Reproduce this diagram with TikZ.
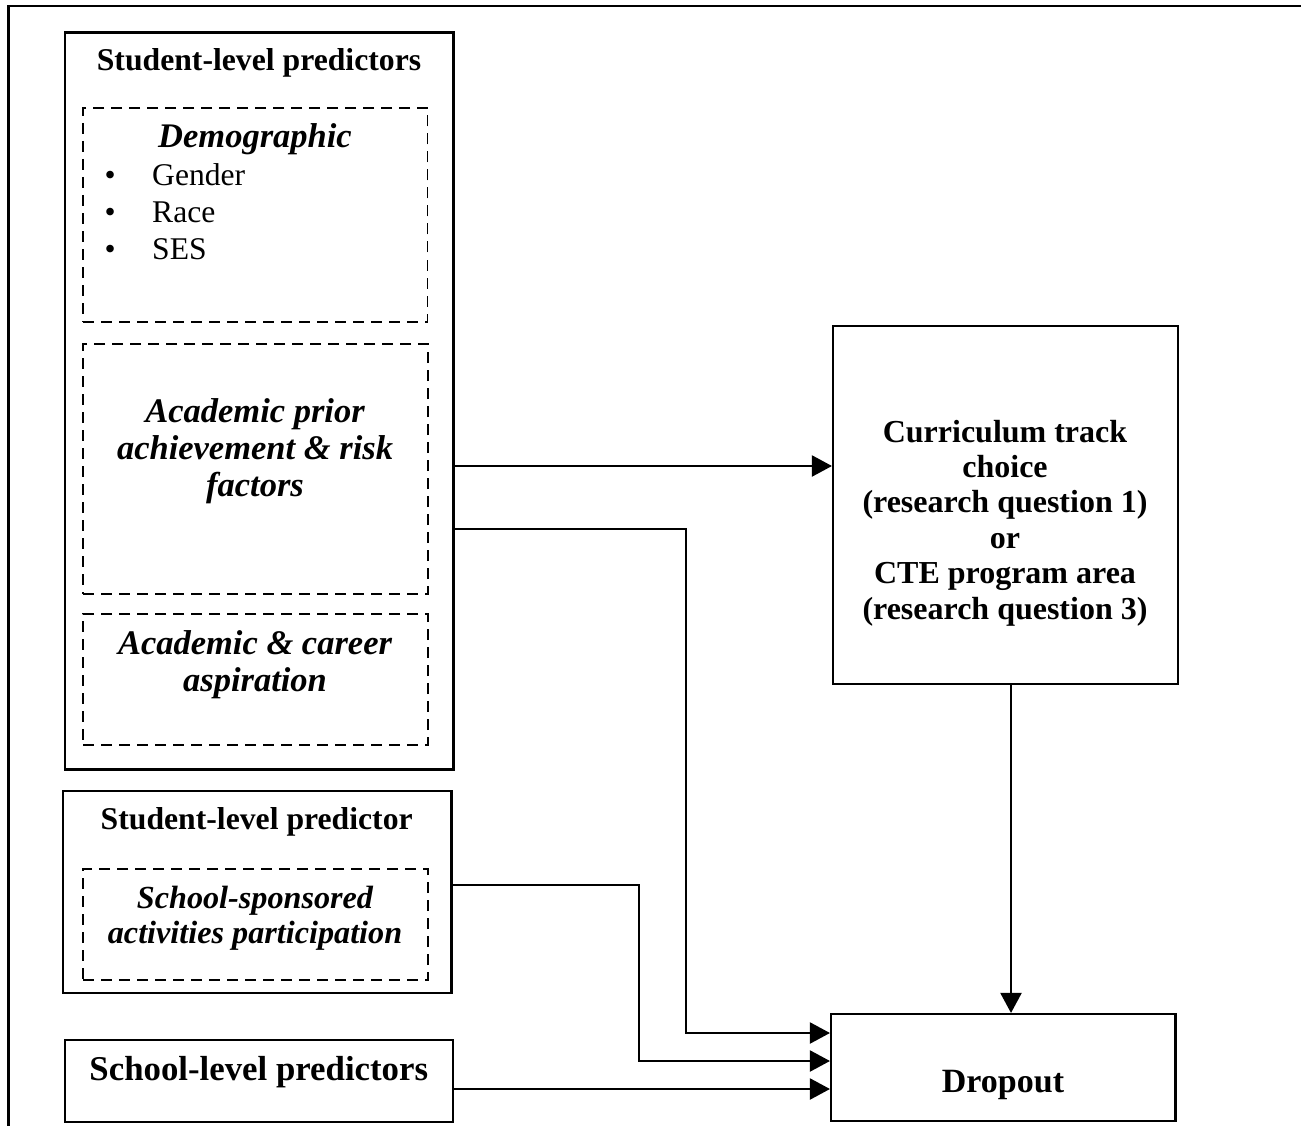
\documentclass[tikz,border=0pt]{standalone}
\usepackage{fontspec}
\setmainfont{Liberation Serif}
\usetikzlibrary{arrows.meta}

% stacked, centred lines whose base anchor is the first baseline
\newcommand{\linestack}[1]{\begin{tabular}[t]{@{}c@{}}#1\end{tabular}}

\begin{document}
\begin{tikzpicture}[x=1pt,y=-1pt,
  solidbox/.style={draw, line width=2.1pt, inner sep=0pt},
  dashbox/.style={draw, line width=1.9pt, dash pattern=on 11pt off 7pt, inner sep=0pt},
  lbl/.style={anchor=base, inner sep=0pt},
  titlefont/.style={font=\fontsize{31.7}{35}\selectfont\bfseries},
  itfont/.style={font=\fontsize{34.5}{37}\selectfont\bfseries\itshape},
  conn/.style={line width=2.1pt, -{Triangle[length=20pt,width=21pt]}},
]
\useasboundingbox (0,0) rectangle (1301,1126);

% page frame
\draw[line width=2.3pt] (8.5,1126) -- (8.5,6) -- (1301,6);

% left-hand predictor boxes
\node[solidbox, minimum width=388.5pt, minimum height=737pt] (sp) at (259.25,401) {};
\node[dashbox, minimum width=344.5pt, minimum height=214pt] (demo) at (255.25,215) {};
\node[dashbox, minimum width=345pt, minimum height=250pt] (acad) at (255.5,469) {};
\node[dashbox, minimum width=345pt, minimum height=131pt] (asp) at (255.5,679.5) {};

\node[solidbox, minimum width=388.5pt, minimum height=202pt] (sl) at (257.25,892) {};
\node[dashbox, minimum width=345pt, minimum height=111pt] (act) at (255.5,924.5) {};

\node[solidbox, minimum width=388pt, minimum height=82pt] (sch) at (259,1081) {};

% outcome boxes
\node[solidbox, minimum width=345pt, minimum height=358pt] (cur) at (1005.5,505) {};
\node[solidbox, minimum width=344.5pt, minimum height=107pt] (drop) at (1003.25,1067.5) {};

% texts
\node[lbl, titlefont] (spT) at (259,71) {Student-level predictors};
\node[lbl, itfont] (demoT) at (255,148) {Demographic};
\node[lbl, anchor=base west, font=\fontsize{31.6}{36.7}\selectfont] (demoL) at (104.5,186)
  {\begin{tabular}[t]{@{}l@{}}\makebox[47.5pt][l]{\textbullet}Gender\\
   \makebox[47.5pt][l]{\textbullet}Race\\
   \makebox[47.5pt][l]{\textbullet}SES\end{tabular}};
\node[lbl, itfont] (acadT) at (255,422) {\linestack{Academic prior\\achievement \& risk\\factors}};
\node[lbl, itfont] (aspT) at (255,654) {\linestack{Academic \& career\\aspiration}};

\node[lbl, titlefont] (slT) at (256.7,829) {Student-level predictor};
\node[lbl, font=\fontsize{32.2}{35}\selectfont\bfseries\itshape] (actT) at (255,908)
  {\linestack{School-sponsored\\activities participation}};

\node[lbl, font=\fontsize{34.8}{38}\selectfont\bfseries] (schT) at (258.8,1080) {School-level predictors};

\node[lbl, font=\fontsize{32}{35.4}\selectfont\bfseries] (curT) at (1005,442)
  {\linestack{Curriculum track\\choice\\(research question 1)\\or\\CTE program area\\(research question 3)}};
\node[lbl, font=\fontsize{34}{38}\selectfont\bfseries] (dropT) at (1003,1092) {Dropout};

% routing points of the connectors
\coordinate (hT) at (0,466);
\coordinate (jA) at (686,529);
\coordinate (jB) at (686,1033);
\coordinate (kA) at (639,885);
\coordinate (kB) at (639,1061);
\coordinate (hC) at (0,1089);
\coordinate (vD) at (1011,0);

% connectors
\draw[conn] (sp.east |- hT) -- (cur.west |- hT);
\draw[conn] (sp.east |- jA) -- (jA) -- (jB) -- (drop.west |- jB);
\draw[conn] (sl.east |- kA) -- (kA) -- (kB) -- (drop.west |- kB);
\draw[conn] (sch.east |- hC) -- (drop.west |- hC);
\draw[conn] (cur.south -| vD) -- (drop.north -| vD);
\end{tikzpicture}
\end{document}
